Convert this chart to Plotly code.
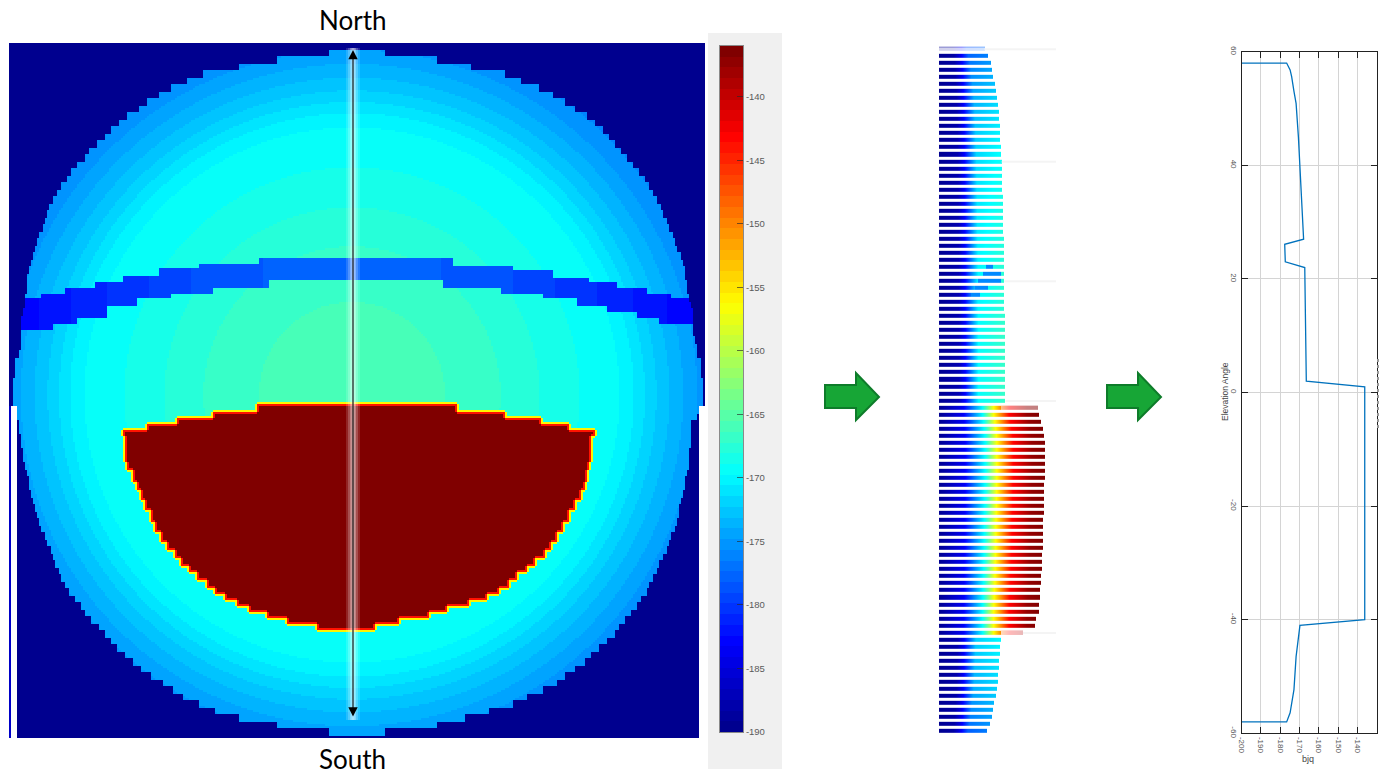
import numpy as np
import plotly.graph_objects as go

W, H = 1379, 774

# ---------- shared colour range ----------
gain_min, gain_max = -190, -136
cbar_ticks = [-140, -145, -150, -155, -160, -165, -170, -175, -180, -185, -190]
jet_pos = [0, 0.125, 0.375, 0.625, 0.875, 1]
jet_rgb = [(0, 0, 143), (0, 0, 255), (0, 255, 255), (255, 255, 0), (255, 0, 0), (128, 0, 0)]

# ---------- left panel: antenna pattern, scan units centred on the beam ----------
disc_west = [0, 22, 75, 113, 149, 164, 180, 192, 204, 213, 224, 232, 240, 247, 255, 262, 267, 274, 280, 285,
             290, 295, 299, 302, 304, 306, 308, 312, 315, 317, 319, 321, 323, 325, 325, 325, 326, 327, 329, 330,
             330, 331, 331, 331, 332, 336, 337, 337, 338, 338, 338, 338, 335, 334, 333, 332, 331, 330, 329, 328,
             327, 325, 323, 322, 321, 319, 317, 315, 312, 310, 306, 304, 301, 299, 297, 293, 290, 286, 282, 276,
             271, 266, 260, 253, 247, 241, 234, 227, 219, 211, 200, 189, 179, 169, 152, 137, 112, 74, 22, 0]
disc_east = [0, 33, 86, 120, 153, 170, 188, 201, 213, 224, 235, 243, 251, 257, 263, 270, 276, 282, 288, 293,
             297, 301, 305, 309, 312, 315, 318, 321, 323, 326, 329, 331, 333, 334, 335, 335, 337, 339, 341, 341,
             341, 342, 343, 345, 346, 350, 350, 350, 351, 351, 351, 352, 348, 346, 340, 340, 340, 339, 338, 337,
             337, 336, 334, 333, 332, 330, 328, 327, 325, 323, 320, 317, 315, 311, 308, 305, 302, 298, 295, 290,
             285, 280, 274, 268, 263, 256, 248, 240, 233, 223, 213, 205, 191, 176, 161, 138, 113, 85, 33, 0]

radial_dist = [0, 120, 180, 270, 285, 300, 320, 345, 370]
radial_gain = [-165.6, -166.6, -167.9, -169.8, -170.8, -172, -173.3, -174.8, -176]

hot_south = [17, 23, 29, 35, 41, 68, 75, 87, 95, 105, 115, 127, 137, 147, 155, 163, 171, 178, 185, 193, 199,
             205, 211, 217, 223, 229, 235]
hot_west = [94, 139, 175, 205, 229, 227, 224, 219, 215, 210, 206, 201, 197, 191, 185, 177, 170, 162, 154, 145,
            136, 126, 114, 102, 84, 65, 34]
hot_east = [106, 153, 190, 218, 243, 240, 238, 235, 233, 229, 223, 217, 212, 206, 200, 193, 184, 175, 166, 158,
            148, 136, 118, 96, 78, 48, 23]
hot_gain, hot_edge_gain, hot_halo_gain = -136, -144, -156

band_top_breaks = [-352, -310, -287, -257, -229, -192, -152, -92, 101, 161, 201, 238, 266, 296, 320, 400]
band_top = [98, 102, 108, 113, 120, 127, 132, 137, 130, 125, 118, 113, 108, 102, 97]
band_bot_breaks = [-352, -299, -274, -245, -215, -180, -139, -82, 91, 150, 191, 226, 256, 285, 308, 400]
band_bot = [65, 72, 78, 90, 97, 102, 108, 115, 108, 102, 97, 90, 83, 78, 72]
band_az = [-340, -300, -250, -150, -50, 50, 150, 250, 300, 345]
band_gain = [-183.2, -182, -180.8, -178.8, -177.8, -177.8, -178.8, -180.8, -182, -183.2]

# ---------- middle panel: strips ----------
strip_len = [45.7, 49, 51.7, 53.3, 54.3, 56, 57, 58.3, 59, 59.7, 60, 60.7, 61.3, 61.3, 62, 62.3, 62.7, 62.7, 63,
             63.3, 63.3, 63.7, 63.7, 64, 64, 64.3, 64.3, 64.7, 64.7, 65, 65, 65.3, 65.3, 65.3, 65.3, 65.3, 65,
             65.3, 65.7, 66, 66.3, 66.3, 66.3, 66.3, 66.3, 66.3, 66.3, 66.3, 66.3, 66.3, 66.3,
             99, 99.7, 102.3, 103.7, 105, 105.7, 105.7, 105.7, 105.7, 105.7, 105.7, 105.3, 105.3, 105, 105, 104.7,
             104.3, 104, 104, 103.7, 103.7, 103.3, 103, 102.7, 102.3, 102.3, 101.3, 101, 100.3, 99.7, 97.3, 96,
             84, 61.7, 61.3, 61, 60.3, 59.7, 59.3, 58.7, 58, 57, 55, 54, 52.7, 51.3, 48.3]
cool_len = [45, 50, 55, 60, 63, 66.3]
cool_end = [-178, -176, -173.5, -171, -169, -166.8]
cool_frac = [0, 0.3, 0.4, 0.6, 0.8, 1]
cool_level = [0, 0.09, 0.3, 0.88, 0.94, 1]
hot_frac = [0, 0.24, 0.44, 0.55, 0.7, 0.88, 1]
hot_level = [0, 0.11, 0.38, 0.63, 0.87, 0.98, 1]
hot_rows = list(range(51, 84))
spot_row = [31, 32, 33, 34, 35]
spot_from = [47, 44, 39, 36, 32]
spot_to = [54, 62, 62, 49, 41]
spot_gain = -176
fade_row = [0, 51, 83]
fade_from = [0, 62, 62]
fade_to = [46, 99, 84]
fade_alpha = [0.82, 0.5, 0.72]
pale_rows = [0, 16, 33, 50, 83]

# ---------- right panel: cut through the pattern ----------
cut_elev = [58, 58, 56.8, 55.6, 53, 50.9, 45, 40, 34.5, 27, 26.1, 23, 22, 2, 1, -40, -41, -46.5, -52.3, -56.4, -58, -58]
cut_gain = [-200, -176.7, -174.9, -174.1, -172.9, -171.8, -170.6, -169.8, -168.9, -167.9, -177.7, -177.4, -167.3,
            -166.5, -136.2, -136.2, -169.8, -171.8, -172.9, -174.9, -176.7, -200]
cut_xticks = [-200, -190, -180, -170, -160, -150, -140, -130]
cut_yticks = [60, 40, 20, 0, -20, -40, -60]


def jet(v):
    return tuple(int(round(np.interp(v, jet_pos, [c[i] for c in jet_rgb]))) for i in range(3))


levels = 64
stepped = []
for k in range(levels):
    c = "rgb(%d,%d,%d)" % jet(k / (levels - 1))
    stepped += [[k / levels, c], [(k + 1) / levels, c]]
smooth = [[p, "rgb(%d,%d,%d)" % c] for p, c in zip(jet_pos, jet_rgb)]

# ---------- build left field ----------
az = np.arange(-342.0, 353.0, 2.0)
el = np.arange(352.0, -344.0, -2.0)
AZ, EL = np.meshgrid(az, el)
row_i = np.clip(((352.5 - EL) / 7).astype(int), 0, len(disc_west) - 1)
dw = np.array(disc_west)[row_i]
de = np.array(disc_east)[row_i]
disc = (AZ >= -dw) & (AZ < de)
field = np.interp(np.hypot(AZ, EL), radial_dist, radial_gain)
top_i = np.clip(np.searchsorted(band_top_breaks, az, side="right") - 1, 0, len(band_top) - 1)
bot_i = np.clip(np.searchsorted(band_bot_breaks, az, side="right") - 1, 0, len(band_bot) - 1)
tops = np.array(band_top)[top_i]
bots = np.array(band_bot)[bot_i]
in_band = (EL < tops[None, :]) & (EL >= bots[None, :])
field = np.where(in_band, np.interp(AZ, band_az, band_gain), field)
field = np.where(disc, field, float(gain_min))

south = -EL
hot_i = np.clip(np.searchsorted(hot_south, south, side="right"), 0, len(hot_south) - 1)
hot = (south >= 10) & (south < hot_south[-1]) & (AZ >= -np.array(hot_west)[hot_i]) & (AZ < np.array(hot_east)[hot_i])


def grow(m):
    o = m.copy()
    o[1:, :] |= m[:-1, :]
    o[:-1, :] |= m[1:, :]
    o[:, 1:] |= m[:, :-1]
    o[:, :-1] |= m[:, 1:]
    return o


field = np.where(grow(hot), float(hot_halo_gain), field)
field = np.where(hot, float(hot_edge_gain), field)
field = np.where(hot & ~grow(~hot), float(hot_gain), field)

# the lower half of the source picture is offset: blank left strip, narrower right side
lower = south > 10
field[lower & (AZ > 347)] = np.nan
field[lower & (AZ < -335)] = np.nan
field[lower & (AZ <= -342)] = -186.0

# ---------- build middle strips ----------
pos = np.arange(0.5, 117.0, 1.0)
strips = np.full((len(strip_len), len(pos)), np.nan)
for k, L in enumerate(strip_len):
    if k in hot_rows:
        ref_len = max(L, 100)
        vals = gain_min + (hot_gain - gain_min) * np.interp(pos / ref_len, hot_frac, hot_level)
    else:
        end = np.interp(L, cool_len, cool_end)
        vals = gain_min + (end - gain_min) * np.interp(pos / L, cool_frac, cool_level)
    strips[k] = np.where(pos <= L, vals, np.nan)
for r, a, b in zip(spot_row, spot_from, spot_to):
    strips[r][(pos >= a) & (pos <= b)] = spot_gain

# ---------- colour bar levels ----------
bar_levels = [gain_min + (gain_max - gain_min) * (k + 0.5) / levels for k in range(levels)]

fig = go.Figure()


def px_x(a, b):
    return [a / W, b / W]


def px_y(top, bottom):
    return [1 - bottom / H, 1 - top / H]


# left heatmap
fig.add_trace(go.Heatmap(
    x=az, y=el, z=field, zmin=gain_min, zmax=gain_max, colorscale=stepped, hoverongaps=False,
    xaxis="x", yaxis="y", showscale=False,
))
# glow along the cut line
glow_az = [1, 1]
glow_el = [347, -325]
for w_, a_ in [(14, 0.14), (10, 0.2), (6, 0.28), (3, 0.3)]:
    fig.add_trace(go.Scatter(x=glow_az, y=glow_el, mode="lines", xaxis="x", yaxis="y", hoverinfo="skip",
                             line=dict(color="rgba(255,255,255,%g)" % a_, width=w_), showlegend=False))

# colour bar
fig.add_trace(go.Heatmap(
    x=[0], y=bar_levels, z=[[v] for v in bar_levels], zmin=gain_min, zmax=gain_max, colorscale=stepped,
    showscale=False, xaxis="x4", yaxis="y4", hoverinfo="skip",
))

# middle strips
pale_x, pale_y = [], []
for r in pale_rows:
    pale_x += [strip_len[r], 117, None]
    pale_y += [r, r, None]
fig.add_trace(go.Scatter(x=pale_x, y=pale_y, mode="lines", xaxis="x2", yaxis="y2", hoverinfo="skip",
                         line=dict(color="#f4f4f4", width=2), showlegend=False))
fig.add_trace(go.Heatmap(
    x=pos, y=np.arange(len(strip_len)), z=strips, zmin=gain_min, zmax=gain_max, colorscale=smooth,
    showscale=False, ygap=3, xaxis="x2", yaxis="y2", hoverongaps=False,
))
for r, a, b, al in zip(fade_row, fade_from, fade_to, fade_alpha):
    fig.add_trace(go.Scatter(x=[a, b], y=[r, r], mode="lines", xaxis="x2", yaxis="y2", hoverinfo="skip",
                             line=dict(color="rgba(255,255,255,%g)" % al, width=4), showlegend=False))

# right line chart
fig.add_trace(go.Scatter(x=cut_gain, y=cut_elev, mode="lines", xaxis="x3", yaxis="y3",
                         line=dict(color="#0072BD", width=1.3), showlegend=False))

tick_font = dict(size=8, color="#555555", family="Liberation Sans")
fig.update_layout(
    width=W, height=H, margin=dict(l=0, r=0, t=0, b=0, autoexpand=False), autosize=False,
    paper_bgcolor="white", plot_bgcolor="rgba(0,0,0,0)", showlegend=False,
    xaxis=dict(domain=px_x(9, 705), range=[-343, 353], visible=False, fixedrange=True),
    yaxis=dict(domain=px_y(43, 738), range=[-343, 352], visible=False, fixedrange=True),
    xaxis2=dict(domain=px_x(939, 1056), range=[0, 117], visible=False, fixedrange=True, anchor="y2"),
    yaxis2=dict(domain=px_y(45.8, 734.9), range=[97.5, -0.5], visible=False, fixedrange=True, anchor="x2"),
    xaxis3=dict(domain=px_x(1241.7, 1376.7), range=[-200, -130], anchor="y3", tickvals=cut_xticks,
                ticktext=[str(t) for t in cut_xticks], tickangle=90, ticks="inside", ticklen=6, tickcolor="#222",
                mirror="allticks", showline=True, linecolor="#222", linewidth=1, gridcolor="#d4d4d4", gridwidth=1,
                zeroline=False, tickfont=tick_font, ticklabelstandoff=1),
    yaxis3=dict(domain=px_y(51.7, 733.3), range=[-60, 60], anchor="x3", tickvals=cut_yticks,
                ticktext=[str(t) for t in cut_yticks], tickangle=90, ticks="inside", ticklen=6, tickcolor="#222",
                mirror="allticks", showline=True, linecolor="#222", linewidth=1, gridcolor="#d4d4d4", gridwidth=1,
                zeroline=False, tickfont=tick_font),
    xaxis4=dict(domain=px_x(720, 743), anchor="y4", range=[-0.5, 0.5], showticklabels=False, ticks="",
                showgrid=False, zeroline=False, showline=True, linecolor="#8a8a8a", linewidth=1, mirror=True,
                fixedrange=True),
    yaxis4=dict(domain=px_y(46, 732), anchor="x4", side="right", range=[gain_min, gain_max], tickvals=cbar_ticks,
                ticktext=[str(t) for t in cbar_ticks], ticks="inside", ticklen=6, tickwidth=1,
                tickcolor="rgba(40,40,40,0.65)", showgrid=False, zeroline=False, showline=True,
                linecolor="#8a8a8a", linewidth=1, mirror=True, fixedrange=True,
                tickfont=dict(size=9.5, color="#5a5a5a", family="Liberation Sans")),
)

# chrome: grey colour-bar panel, green arrows, clipped label at the far right
shapes = [dict(type="rect", xref="paper", yref="paper", x0=708 / W, x1=782 / W, y0=1 - 769 / H, y1=1 - 33 / H,
               fillcolor="#f0f0f0", line=dict(width=0), layer="below")]
for x0 in (825, 1107):
    pts = [(0, 385), (31, 385), (31, 373), (54, 397), (31, 420), (31, 408), (0, 408)]
    path = "M" + " L".join("%.5f,%.5f" % ((x0 + dx) / W, 1 - yy / H) for dx, yy in pts) + " Z"
    shapes.append(dict(type="path", xref="paper", yref="paper", path=path, fillcolor="#17A636",
                       line=dict(color="#0E7C2A", width=2)))
shapes.append(dict(type="line", xref="paper", yref="paper", x0=1378 / W, x1=1378 / W, y0=1 - 428 / H, y1=1 - 358 / H,
                   line=dict(color="#999999", width=2, dash="dot")))
fig.update_layout(shapes=shapes)

anns = [
    dict(text="North", xref="paper", yref="paper", x=352 / W, y=1 - 20 / H, showarrow=False,
         font=dict(size=26, color="black", family="Lato"), xanchor="center", yanchor="middle"),
    dict(text="South", xref="paper", yref="paper", x=352 / W, y=1 - 759 / H, showarrow=False,
         font=dict(size=26, color="black", family="Lato"), xanchor="center", yanchor="middle"),
    dict(x=1, y=345, ax=1, ay=-323, xref="x", yref="y", axref="x", ayref="y", text="", showarrow=True,
         arrowhead=2, arrowside="end+start", arrowsize=1.7, arrowwidth=1.1, arrowcolor="black"),
    dict(text="Elevation Angle", xref="paper", yref="paper", x=1225 / W, y=1 - 392 / H, showarrow=False,
         textangle=-90, font=dict(size=8.5, color="#444", family="Liberation Sans"),
         xanchor="center", yanchor="middle"),
    dict(text="bjq", xref="paper", yref="paper", x=1308 / W, y=1 - 759 / H, showarrow=False,
         font=dict(size=9, color="#444", family="Liberation Sans"), xanchor="center", yanchor="middle"),
]
fig.update_layout(annotations=anns)

fig.write_html("out.html", config=dict(displayModeBar=False),
               post_script="document.body.style.margin='0';document.body.style.overflow='hidden';")
